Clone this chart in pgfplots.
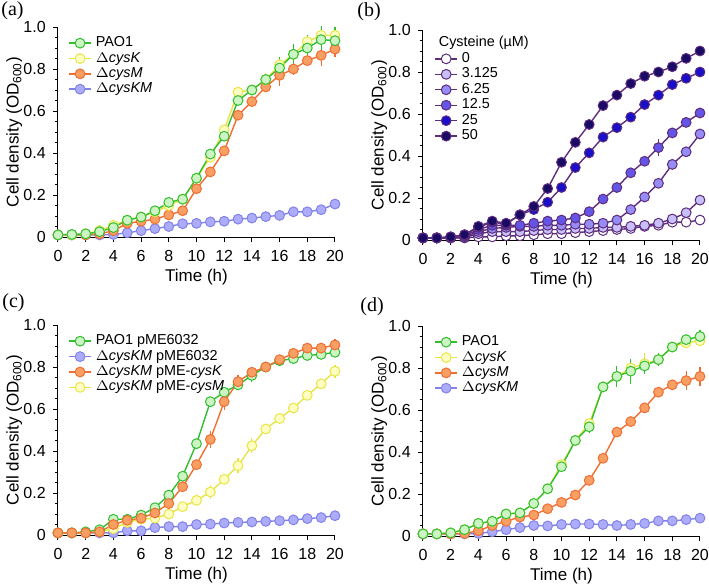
\documentclass[border=0pt]{standalone}
\usepackage{fontspec}
\setmainfont{Liberation Sans}
\newfontfamily\panelfont{Liberation Serif}
\usepackage{pgfplots}
\pgfplotsset{compat=1.18}

\definecolor{gL}{RGB}{50,190,50}
\definecolor{gF}{RGB}{205,245,195}
\definecolor{yL}{RGB}{232,228,70}
\definecolor{yF}{RGB}{255,255,195}
\definecolor{oL}{RGB}{240,110,50}
\definecolor{oF}{RGB}{248,160,100}
\definecolor{bL}{RGB}{130,130,235}
\definecolor{bF}{RGB}{172,172,250}
\definecolor{pL}{RGB}{95,45,125}
\definecolor{c0}{RGB}{255,255,255}
\definecolor{c1}{RGB}{200,192,250}
\definecolor{c2}{RGB}{150,140,245}
\definecolor{c3}{RGB}{100,85,230}
\definecolor{c4}{RGB}{25,15,200}
\definecolor{c5}{RGB}{25,10,100}

\pgfplotsset{
  ser/.style 2 args={draw=#1, line width=0.7pt, mark=*, mark size=2.45pt,
    mark options={solid, fill=#2, draw=#1, line width=0.5pt},
    error bars/.cd, y dir=both, y explicit, error mark=none,
    error bar style={#1, line width=0.6pt}, /pgfplots/.cd},
  panel/.style={
    width=138.5pt, height=105pt, scale only axis,
    axis lines=left, axis line style={-, line width=0.5pt},
    xmin=0, xmax=20, ymin=0, ymax=1,
    enlargelimits=false, clip=false,
    xtick={0,2,...,20}, ytick={0,0.2,0.4,0.6,0.8,1.0},
    yticklabels={0,0.2,0.4,0.6,0.8,1.0},
    minor y tick num=3,
    tick align=outside, major tick length=2.6pt, minor tick length=1.6pt,
    tick style={black, line width=0.5pt},
    /pgf/number format/assume math mode=true,
    ticklabel style={font=\fontsize{8}{9}\selectfont},
    xticklabel style={yshift=-0.6pt},
    xlabel={Time (h)},
    ylabel={Cell density (OD\textsubscript{600})},
    every axis x label/.style={at={(axis description cs:0.5,-0.19)}, anchor=center, font=\fontsize{8.5}{9}\selectfont},
    every axis y label/.style={at={(axis description cs:-0.158,0.5)}, rotate=90, anchor=center, font=\fontsize{8.5}{9}\selectfont},
    legend cell align=left,
    legend style={draw=none, fill=none, font=\fontsize{7.2}{7.8}\selectfont,
      anchor=north west, inner sep=0pt, row sep=-2.8pt,
      /tikz/every even column/.append style={column sep=0pt}},
    legend image code/.code={
      \draw[mark repeat=2,mark phase=2] plot coordinates {(0pt,0pt) (5.5pt,0pt) (11pt,0pt)};},
  }
}

\begin{document}
\begin{tikzpicture}
\path[use as bounding box] (0pt,0pt) rectangle (354.5pt,293pt);

\node[anchor=north west, inner sep=0pt, font=\panelfont\fontsize{10}{11}\selectfont] at (0.5pt,292.5pt) {(a)};
\node[anchor=north west, inner sep=0pt, font=\panelfont\fontsize{10}{11}\selectfont] at (178.5pt,292pt) {(b)};
\node[anchor=north west, inner sep=0pt, font=\panelfont\fontsize{10}{11}\selectfont] at (1pt,146.5pt) {(c)};
\node[anchor=north west, inner sep=0pt, font=\panelfont\fontsize{10}{11}\selectfont] at (180pt,144.5pt) {(d)};

% ---------------- (a)
\begin{axis}[panel, at={(29pt,174.5pt)}, anchor=south west,
  legend style={at={(axis description cs:0.036,0.975)}}]
\addlegendimage{ser={gL}{gF}}\addlegendentry{PAO1}
\addlegendimage{ser={yL}{yF}}\addlegendentry{$\Delta$\textit{cysK}}
\addlegendimage{ser={oL}{oF}}\addlegendentry{$\Delta$\textit{cysM}}
\addlegendimage{ser={bL}{bF}}\addlegendentry{$\Delta$\textit{cysKM}}
\addplot[forget plot, ser={bL}{bF}] coordinates {
(0,0.01) (1,0.01) (2,0.01) (3,0.01) (4,0.012) (5,0.02) (6,0.03) (7,0.04) (8,0.05) (9,0.063) (10,0.065)
(11,0.072) (12,0.075) (13,0.085) (14,0.09) (15,0.097) (16,0.103) (17,0.12) (18,0.12) (19,0.13) (20,0.157)};
\addplot[forget plot, ser={oL}{oF}] coordinates {
(0,0.01) (1,0.01) (2,0.01) (3,0.015) (4,0.03) (5,0.065) (6,0.075) (7,0.085) (8,0.105) (9,0.125) (10,0.23)
(11,0.31) (12,0.41) (13,0.58) (14,0.645) (15,0.715) (16,0.77) +- (0,0.05) (17,0.80) +- (0,0.03) (18,0.84) (19,0.865) +- (0,0.05) (20,0.895) +- (0,0.04)};
\addplot[forget plot, ser={yL}{yF}] coordinates {
(0,0.01) (1,0.01) (2,0.015) (3,0.03) (4,0.055) (5,0.08) (6,0.095) (7,0.12) (8,0.15) (9,0.18) (10,0.28)
(11,0.38) (12,0.51) (13,0.69) (14,0.70) (15,0.75) +- (0,0.03) (16,0.82) (17,0.87) (18,0.93) (19,0.96) +- (0,0.04) (20,0.96) +- (0,0.04)};
\addplot[forget plot, ser={gL}{gF}] coordinates {
(0,0.01) (1,0.012) (2,0.015) +- (0,0.025) (3,0.025) +- (0,0.03) (4,0.045) (5,0.08) (6,0.095) (7,0.125) (8,0.165) (9,0.18) (10,0.28)
(11,0.395) (12,0.48) (13,0.65) (14,0.70) (15,0.75) (16,0.805) +- (0,0.05) (17,0.87) +- (0,0.05) (18,0.90) +- (0,0.06) (19,0.94) +- (0,0.065) (20,0.935) +- (0,0.065)};
\end{axis}

% ---------------- (b)
\begin{axis}[panel, at={(211.5pt,173pt)}, anchor=south west,
  legend style={at={(axis description cs:0.04,0.99)}}]
\addlegendimage{empty legend}\addlegendentry{\hspace{-11.5pt}Cysteine (µM)}
\addlegendimage{ser={pL}{c0}}\addlegendentry{0}
\addlegendimage{ser={pL}{c1}}\addlegendentry{3.125}
\addlegendimage{ser={pL}{c2}}\addlegendentry{6.25}
\addlegendimage{ser={pL}{c3}}\addlegendentry{12.5}
\addlegendimage{ser={pL}{c4}}\addlegendentry{25}
\addlegendimage{ser={pL}{c5}}\addlegendentry{50}
\addplot[forget plot, ser={pL}{c0}] coordinates {
(0,0.01) (1,0.01) (2,0.01) (3,0.01) (4,0.015) (5,0.015) (6,0.02) (7,0.02) (8,0.025) (9,0.03) (10,0.03)
(11,0.035) (12,0.04) (13,0.045) (14,0.05) (15,0.055) (16,0.065) (17,0.07) (18,0.085) (19,0.085) (20,0.095)};
\addplot[forget plot, ser={pL}{c1}] coordinates {
(0,0.01) (1,0.01) (2,0.01) (3,0.012) (4,0.03) (5,0.04) (6,0.04) (7,0.04) (8,0.045) (9,0.05) (10,0.05)
(11,0.055) (12,0.055) (13,0.06) (14,0.06) (15,0.065) (16,0.07) (17,0.08) (18,0.10) (19,0.13) (20,0.19) +- (0,0.025)};
\addplot[forget plot, ser={pL}{c2}] coordinates {
(0,0.01) (1,0.01) (2,0.01) (3,0.015) (4,0.04) (5,0.055) (6,0.06) (7,0.065) (8,0.065) (9,0.07) (10,0.07)
(11,0.075) (12,0.075) (13,0.08) (14,0.095) (15,0.145) (16,0.205) (17,0.27) (18,0.36) (19,0.42) (20,0.505)};
\addplot[forget plot, ser={pL}{c3}] coordinates {
(0,0.01) (1,0.01) (2,0.012) (3,0.02) (4,0.05) (5,0.07) (6,0.07) (7,0.07) (8,0.08) (9,0.09) (10,0.095)
(11,0.105) (12,0.135) (13,0.195) (14,0.25) (15,0.32) (16,0.375) (17,0.44) +- (0,0.04) (18,0.51) +- (0,0.02) (19,0.56) (20,0.605)};
\addplot[forget plot, ser={pL}{c4}] coordinates {
(0,0.01) (1,0.01) (2,0.015) (3,0.025) (4,0.06) (5,0.085) (6,0.075) (7,0.12) (8,0.145) (9,0.18) (10,0.25)
(11,0.345) (12,0.415) (13,0.49) (14,0.535) (15,0.585) (16,0.645) (17,0.69) (18,0.74) (19,0.77) (20,0.80)};
\addplot[forget plot, ser={pL}{c5}] coordinates {
(0,0.01) (1,0.01) (2,0.015) (3,0.025) (4,0.065) (5,0.09) +- (0,0.025) (6,0.08) (7,0.12) (8,0.16) (9,0.245) (10,0.37)
(11,0.465) (12,0.55) (13,0.64) (14,0.69) (15,0.745) (16,0.78) (17,0.80) (18,0.825) (19,0.865) (20,0.90)};
\end{axis}

% ---------------- (c)
\begin{axis}[panel, at={(29pt,25.5pt)}, anchor=south west,
  legend style={at={(axis description cs:0.036,0.975)}}]
\addlegendimage{ser={gL}{gF}}\addlegendentry{PAO1 pME6032}
\addlegendimage{ser={bL}{bF}}\addlegendentry{$\Delta$\textit{cysKM} pME6032}
\addlegendimage{ser={oL}{oF}}\addlegendentry{$\Delta$\textit{cysKM} pME-\textit{cysK}}
\addlegendimage{ser={yL}{yF}}\addlegendentry{$\Delta$\textit{cysKM} pME-\textit{cysM}}
\addplot[forget plot, ser={bL}{bF}] coordinates {
(0,0.01) (1,0.01) (2,0.01) (3,0.01) (4,0.01) (5,0.02) (6,0.02) (7,0.035) (8,0.04) (9,0.04) (10,0.05)
(11,0.052) (12,0.057) (13,0.06) (14,0.062) (15,0.065) (16,0.068) (17,0.072) (18,0.078) (19,0.083) (20,0.092)};
\addplot[forget plot, ser={yL}{yF}] coordinates {
(0,0.01) (1,0.01) (2,0.01) (3,0.015) (4,0.03) (5,0.06) (6,0.075) (7,0.08) (8,0.10) (9,0.135) (10,0.165)
(11,0.205) +- (0,0.035) (12,0.265) (13,0.33) +- (0,0.035) (14,0.425) +- (0,0.035) (15,0.505) (16,0.555) +- (0,0.02) (17,0.605) (18,0.665) (19,0.72) (20,0.78) +- (0,0.03)};
\addplot[forget plot, ser={gL}{gF}] coordinates {
(0,0.01) (1,0.01) (2,0.015) (3,0.025) (4,0.075) (5,0.075) (6,0.095) (7,0.13) (8,0.19) (9,0.28) (10,0.435)
(11,0.635) (12,0.68) (13,0.715) (14,0.76) +- (0,0.03) (15,0.80) (16,0.83) (17,0.84) (18,0.855) (19,0.86) (20,0.87)};
\addplot[forget plot, ser={oL}{oF}] coordinates {
(0,0.01) (1,0.01) (2,0.01) (3,0.015) (4,0.05) (5,0.07) (6,0.08) (7,0.105) (8,0.15) (9,0.23) (10,0.335)
(11,0.455) +- (0,0.04) (12,0.635) +- (0,0.04) (13,0.73) +- (0,0.03) (14,0.775) (15,0.80) +- (0,0.025) (16,0.835) (17,0.865) (18,0.89) +- (0,0.025) (19,0.89) (20,0.905) +- (0,0.03)};
\end{axis}

% ---------------- (d)
\begin{axis}[panel, at={(211.5pt,25pt)}, anchor=south west,
  legend style={at={(axis description cs:0.04,0.975)}}]
\addlegendimage{ser={gL}{gF}}\addlegendentry{PAO1}
\addlegendimage{ser={yL}{yF}}\addlegendentry{$\Delta$\textit{cysK}}
\addlegendimage{ser={oL}{oF}}\addlegendentry{$\Delta$\textit{cysM}}
\addlegendimage{ser={bL}{bF}}\addlegendentry{$\Delta$\textit{cysKM}}
\addplot[forget plot, ser={bL}{bF}] coordinates {
(0,0.01) (1,0.01) (2,0.01) (3,0.01) (4,0.012) (5,0.02) (6,0.03) (7,0.04) (8,0.05) (9,0.048) (10,0.055)
(11,0.057) (12,0.057) (13,0.055) (14,0.05) (15,0.055) (16,0.06) (17,0.072) (18,0.072) (19,0.078) (20,0.085)};
\addplot[forget plot, ser={oL}{oF}] coordinates {
(0,0.01) (1,0.01) (2,0.01) (3,0.012) (4,0.025) (5,0.05) (6,0.07) (7,0.09) (8,0.10) (9,0.13) (10,0.16)
(11,0.195) (12,0.265) (13,0.37) (14,0.495) (15,0.545) (16,0.61) (17,0.685) +- (0,0.02) (18,0.72) +- (0,0.02) (19,0.74) +- (0,0.045) (20,0.76) +- (0,0.045)};
\addplot[forget plot, ser={yL}{yF}] coordinates {
(0,0.01) (1,0.01) (2,0.015) (3,0.03) (4,0.06) (5,0.07) (6,0.105) (7,0.11) (8,0.155) (9,0.225) (10,0.34)
(11,0.455) (12,0.535) (13,0.71) (14,0.76) (15,0.80) +- (0,0.04) (16,0.82) +- (0,0.05) (17,0.84) (18,0.90) (19,0.92) (20,0.93)};
\addplot[forget plot, ser={gL}{gF}] coordinates {
(0,0.01) (1,0.01) (2,0.015) (3,0.03) (4,0.06) (5,0.07) (6,0.105) (7,0.11) (8,0.155) (9,0.225) (10,0.33)
(11,0.455) (12,0.52) +- (0,0.03) (13,0.71) (14,0.76) +- (0,0.05) (15,0.785) +- (0,0.06) (16,0.81) +- (0,0.04) (17,0.84) +- (0,0.03) (18,0.90) +- (0,0.02) (19,0.935) +- (0,0.025) (20,0.95) +- (0,0.03)};
\end{axis}
\end{tikzpicture}
\end{document}
